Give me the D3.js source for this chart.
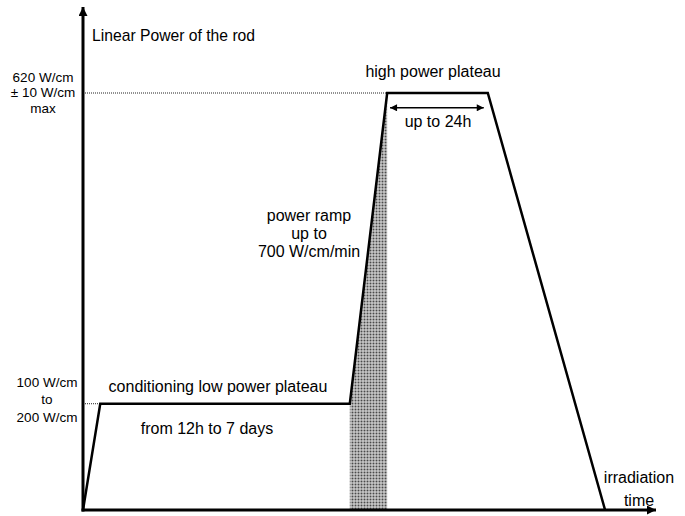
<!DOCTYPE html>
<html>
<head>
<meta charset="utf-8">
<script src="https://cdnjs.cloudflare.com/ajax/libs/d3/7.8.5/d3.min.js"></script>
<style>
  body { margin: 0; background: #fff; }
  text { font-family: "Liberation Sans", Arial, sans-serif; fill: #000; }
</style>
</head>
<body>
<div id="chart"></div>
<script>
// irradiation profile (time in arbitrary units, power in W/cm)
var profileTime = [0, 3, 46.4, 52.9, 70.4, 90.8];
var profilePower = [0, 158, 158, 620, 620, 0];

// shaded part under the power ramp
var rampTime = [46.4, 52.9];
var rampPower = [158, 620];

// "up to 24h" arrow
var holdTime = [53.4, 69.7];
var holdPower = 598;

var lowLabel = ["100 W/cm", "to", "200 W/cm"];
var highLabel = ["620 W/cm", "\u00b1 10 W/cm", "max"];
var rampLabel = ["power ramp", "up to", "700 W/cm/min"];

var width = 685;
var height = 516;

var svg = d3.select("#chart")
  .append("svg")
  .attr("width", width)
  .attr("height", height);

var x = d3.scaleLinear().domain([0, 100]).range([83, 658]);
var y = d3.scaleLinear().domain([0, 620]).range([510, 93]);

var defs = svg.append("defs");

//dot pattern for the ramp
var pat = defs.append("pattern")
  .attr("id", "dots")
  .attr("patternUnits", "userSpaceOnUse")
  .attr("width", 3)
  .attr("height", 3);
pat.append("rect").attr("width", 3).attr("height", 3).attr("fill", "#e6e6e6");
pat.append("rect").attr("x", 0.5).attr("y", 0.5).attr("width", 2).attr("height", 2).attr("fill", "#4a4a4a");

//arrow heads
function marker(id, w, h) {
  defs.append("marker")
    .attr("id", id)
    .attr("viewBox", "0 0 10 10")
    .attr("refX", 10).attr("refY", 5)
    .attr("markerUnits", "userSpaceOnUse")
    .attr("markerWidth", w).attr("markerHeight", h)
    .attr("orient", "auto-start-reverse")
    .append("path")
    .attr("d", "M0,0L10,5L0,10z")
    .attr("fill", "#000");
}
marker("axisArrow", 11, 9);
marker("smallArrow", 9, 7);

//shaded ramp area
var area = d3.area()
  .x(function(d) { return x(d[0]); })
  .y0(y(0))
  .y1(function(d) { return y(d[1]); });

svg.append("path")
  .datum(d3.zip(rampTime, rampPower))
  .attr("d", area)
  .attr("fill", "url(#dots)");

//dotted reference lines
svg.append("line")
  .attr("x1", x(0)).attr("x2", x(profileTime[3]))
  .attr("y1", y(620)).attr("y2", y(620))
  .attr("stroke", "#222").attr("stroke-width", 1).attr("stroke-dasharray", "1,1");
svg.append("line")
  .attr("x1", x(0)).attr("x2", x(profileTime[1]))
  .attr("y1", y(158)).attr("y2", y(158))
  .attr("stroke", "#222").attr("stroke-width", 1).attr("stroke-dasharray", "1,1");

//profile
var line = d3.line()
  .x(function(d) { return x(d[0]); })
  .y(function(d) { return y(d[1]); });

svg.append("path")
  .datum(d3.zip(profileTime, profilePower))
  .attr("d", line)
  .attr("fill", "none")
  .attr("stroke", "#000")
  .attr("stroke-width", 2.5)
  .attr("stroke-linejoin", "miter");

//axes
svg.append("line")
  .attr("x1", x(0)).attr("y1", y(0) + 1.5)
  .attr("x2", x(0)).attr("y2", 7)
  .attr("stroke", "#000").attr("stroke-width", 3)
  .attr("marker-end", "url(#axisArrow)");
svg.append("line")
  .attr("x1", x(0) - 1.5).attr("y1", y(0))
  .attr("x2", 656).attr("y2", y(0))
  .attr("stroke", "#000").attr("stroke-width", 3)
  .attr("marker-end", "url(#axisArrow)");

//double arrow
svg.append("line")
  .attr("x1", x(holdTime[0])).attr("x2", x(holdTime[1]))
  .attr("y1", y(holdPower)).attr("y2", y(holdPower))
  .attr("stroke", "#000").attr("stroke-width", 1.5)
  .attr("marker-start", "url(#smallArrow)")
  .attr("marker-end", "url(#smallArrow)");

//texts
function label(lines, cx, baselines, size) {
  lines.forEach(function(t, i) {
    svg.append("text")
      .attr("x", cx).attr("y", baselines[i])
      .attr("text-anchor", "middle")
      .style("font-size", size + "px")
      .text(t);
  });
}

label(highLabel, 43, [82, 97, 113], 13.5);
label(lowLabel, 47, [387, 404, 422], 13.5);
label(rampLabel, 309, [221, 239, 257], 16);
label(["irradiation", "time"], 639, [483, 506], 16);

svg.append("text").attr("x", 92).attr("y", 41).style("font-size", "15.7px")
  .text("Linear Power of the rod");
svg.append("text").attr("x", 433).attr("y", 77).attr("text-anchor", "middle").style("font-size", "16px")
  .text("high power plateau");
svg.append("text").attr("x", 438).attr("y", 127).attr("text-anchor", "middle").style("font-size", "16px")
  .text("up to 24h");
svg.append("text").attr("x", 218).attr("y", 392).attr("text-anchor", "middle").style("font-size", "16px")
  .text("conditioning low power plateau");
svg.append("text").attr("x", 207).attr("y", 434).attr("text-anchor", "middle").style("font-size", "16px")
  .text("from 12h to 7 days");
</script>
</body>
</html>
